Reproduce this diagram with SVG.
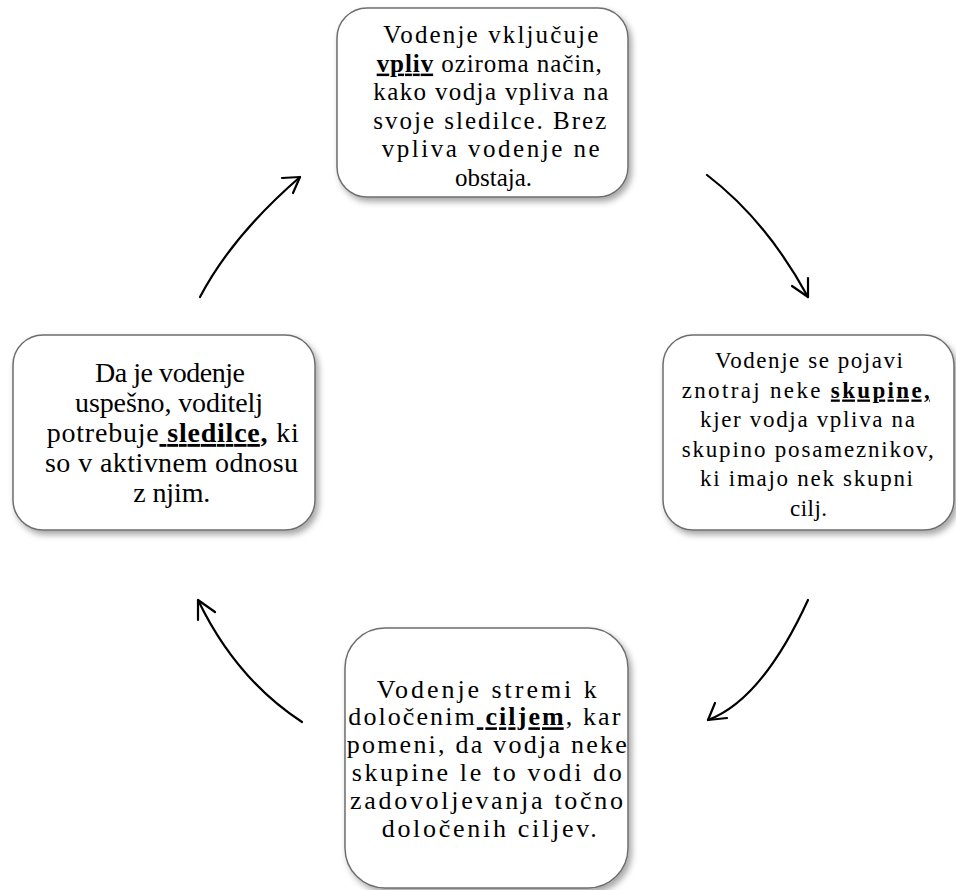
<svg xmlns="http://www.w3.org/2000/svg" width="956" height="890" viewBox="0 0 956 890" xml:space="preserve">
<style>
.box{fill:#fff;stroke:#6e6e6e;stroke-width:1.5;filter:url(#sh)}
.b{font-weight:bold}
.u{text-decoration:underline}
.arr{fill:none;stroke:#000;stroke-width:2.2;stroke-linecap:round;stroke-linejoin:round}
</style>
<defs>
<filter id="sh" x="-10%" y="-10%" width="125%" height="130%">
<feDropShadow dx="3" dy="4" stdDeviation="3" flood-color="#000" flood-opacity="0.35"/>
</filter>
</defs>
<rect width="956" height="890" fill="#fff"/>
<g id="connectors">
<path class="arr" d="M200,297 Q232,236 300,177"/>
<path class="arr" d="M282,178 L300,177 L293,193"/>
<path class="arr" d="M707,175 Q766,220 808,297"/>
<path class="arr" d="M792,286 L808,297 L808,278"/>
<path class="arr" d="M808,600 Q762,700 708,720"/>
<path class="arr" d="M715,703 L708,720 L727,718"/>
<path class="arr" d="M302,722 Q236,679 198,600"/>
<path class="arr" d="M198,620 L198,600 L215,612"/>
</g>
<g id="node-top">
<rect class="box" x="337" y="8" width="291" height="189" rx="30"/>
<text style="font-family:'Liberation Serif',serif;font-size:25px" x="383.3" y="43" textLength="215" lengthAdjust="spacing">Vodenje vključuje</text>
<text style="font-family:'Liberation Serif',serif;font-size:25px" x="376.7" y="71.6" textLength="225" lengthAdjust="spacing"><tspan class="b u">vpliv</tspan> oziroma način,</text>
<text style="font-family:'Liberation Serif',serif;font-size:25px" x="373.3" y="100.2" textLength="235" lengthAdjust="spacing">kako vodja vpliva na</text>
<text style="font-family:'Liberation Serif',serif;font-size:25px" x="373.3" y="128.8" textLength="233" lengthAdjust="spacing">svoje sledilce. Brez</text>
<text style="font-family:'Liberation Serif',serif;font-size:25px" x="381.7" y="157.4" textLength="218" lengthAdjust="spacing">vpliva vodenje ne</text>
<text style="font-family:'Liberation Serif',serif;font-size:25px" x="455" y="186" textLength="77" lengthAdjust="spacing">obstaja.</text>
</g>
<g id="node-right">
<rect class="box" x="663" y="335" width="291" height="195" rx="30"/>
<text style="font-family:'Liberation Serif',serif;font-size:23px" x="715" y="368" textLength="188" lengthAdjust="spacing">Vodenje se pojavi</text>
<text style="font-family:'Liberation Serif',serif;font-size:23px" x="681.7" y="397.5" textLength="248" lengthAdjust="spacing">znotraj neke <tspan class="b u">skupine,</tspan></text>
<text style="font-family:'Liberation Serif',serif;font-size:23px" x="700" y="427" textLength="215" lengthAdjust="spacing">kjer vodja vpliva na</text>
<text style="font-family:'Liberation Serif',serif;font-size:23px" x="681.7" y="456.5" textLength="252" lengthAdjust="spacing">skupino posameznikov,</text>
<text style="font-family:'Liberation Serif',serif;font-size:23px" x="700" y="486" textLength="213" lengthAdjust="spacing">ki imajo nek skupni</text>
<text style="font-family:'Liberation Serif',serif;font-size:23px" x="790" y="515.5" textLength="37" lengthAdjust="spacing">cilj.</text>
</g>
<g id="node-bottom">
<rect class="box" x="345" y="628" width="283" height="260" rx="40"/>
<text style="font-family:'Liberation Serif',serif;font-size:26px" x="376.7" y="697.5" textLength="220" lengthAdjust="spacing">Vodenje stremi k</text>
<text style="font-family:'Liberation Serif',serif;font-size:26px" x="348.3" y="725.3" textLength="272" lengthAdjust="spacing">določenim<tspan class="b u"> ciljem</tspan>, kar</text>
<text style="font-family:'Liberation Serif',serif;font-size:26px" x="346.7" y="753.1" textLength="280" lengthAdjust="spacing">pomeni, da vodja neke</text>
<text style="font-family:'Liberation Serif',serif;font-size:26px" x="351.7" y="780.9" textLength="270" lengthAdjust="spacing">skupine le to vodi do</text>
<text style="font-family:'Liberation Serif',serif;font-size:26px" x="350" y="808.7" textLength="273" lengthAdjust="spacing">zadovoljevanja točno</text>
<text style="font-family:'Liberation Serif',serif;font-size:26px" x="381.7" y="836.5" textLength="215" lengthAdjust="spacing">določenih ciljev.</text>
</g>
<g id="node-left">
<rect class="box" x="13" y="335" width="302" height="195" rx="30"/>
<text style="font-family:'Liberation Serif',serif;font-size:28px" x="95" y="382" textLength="150" lengthAdjust="spacing">Da je vodenje</text>
<text style="font-family:'Liberation Serif',serif;font-size:28px" x="75" y="412" textLength="188" lengthAdjust="spacing">uspešno, voditelj</text>
<text style="font-family:'Liberation Serif',serif;font-size:28px" x="46.7" y="442" textLength="252" lengthAdjust="spacing">potrebuje<tspan class="b u"> sledilce</tspan><tspan class="b">,</tspan> ki</text>
<text style="font-family:'Liberation Serif',serif;font-size:28px" x="45" y="472" textLength="253" lengthAdjust="spacing">so v aktivnem odnosu</text>
<text style="font-family:'Liberation Serif',serif;font-size:28px" x="133.3" y="502" textLength="77" lengthAdjust="spacing">z njim.</text>
</g>
</svg>
